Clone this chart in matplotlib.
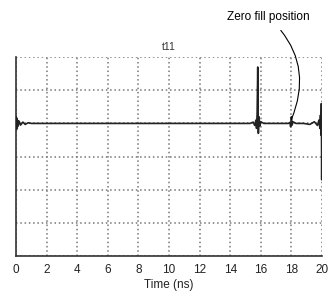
import numpy as np
from matplotlib import pyplot as plt

plt.rcParams['font.family'] = ['Liberation Sans', 'DejaVu Sans']

# trace samples (time in ns, amplitude in grid units)
time_ns = [0.0, 0.02, 0.04, 0.06, 0.08, 0.1, 0.14, 0.2, 0.3, 0.45, 0.6, 0.8, 1.0, 1.3,
           15.3, 15.5, 15.6, 15.68, 15.72, 15.76, 15.8, 15.84, 15.88, 15.94, 16.0, 16.2,
           17.8, 17.9, 17.95, 18.0, 18.05, 18.1, 18.3,
           18.8, 19.2, 19.5, 19.7, 19.8, 19.86, 19.9, 19.93, 19.96, 19.98, 20.0]
amplitude = [0.0, 0.2, -0.18, 0.15, -0.12, 0.1, -0.08, 0.07, -0.05, 0.04, -0.03, 0.02, 0.0, 0.0,
             0.0, 0.04, -0.06, 0.1, -0.15, 0.3, 1.7, -0.3, 0.2, -0.08, 0.05, 0.0,
             0.0, 0.03, -0.1, 0.2, -0.05, 0.05, 0.0,
             0.0, -0.03, 0.05, -0.06, 0.1, -0.15, 0.25, -0.35, 0.6, -1.7, 0.0]
x_ticks = [0, 2, 4, 6, 8, 10, 12, 14, 16, 18, 20]
y_grid = [-4, -3, -2, -1, 0, 1, 2]

fig = plt.figure(figsize=(3.33, 3.04), dpi=100)
ax = fig.add_axes([0.048, 0.158, 0.919, 0.654])

ax.plot(time_ns, amplitude, color='#222222', lw=1.2, zorder=3)

ax.set_xlim(0, 20)
ax.set_ylim(-4, 2)
ax.set_xticks(x_ticks)
ax.set_yticks(y_grid)
ax.set_yticklabels([])
ax.tick_params(axis='both', length=0, labelsize=8.5, colors='#222222', pad=6)
ax.grid(True, color='#777777', linestyle=(0, (1, 1.8)), lw=1.1)

for side in ['top', 'right']:
    ax.spines[side].set_visible(False)
ax.spines['left'].set_linewidth(1.2)
ax.spines['left'].set_color('#333333')
ax.spines['bottom'].set_linewidth(1.2)
ax.spines['bottom'].set_color('#333333')

ax.set_xlabel('Time (ns)', fontsize=8.5, color='#222222', labelpad=2)
ax.set_title('t11', fontsize=7.5, color='#333333', pad=5)

ax.annotate('Zero fill position', xy=(18.0, 0.12), xytext=(16.5, 3.2),
            fontsize=8.5, ha='center', va='center', annotation_clip=False,
            arrowprops=dict(arrowstyle='-', color='black', lw=0.8,
                            shrinkA=4, shrinkB=0,
                            connectionstyle='arc3,rad=-0.35'))

fig.savefig('out.png', dpi=100)
